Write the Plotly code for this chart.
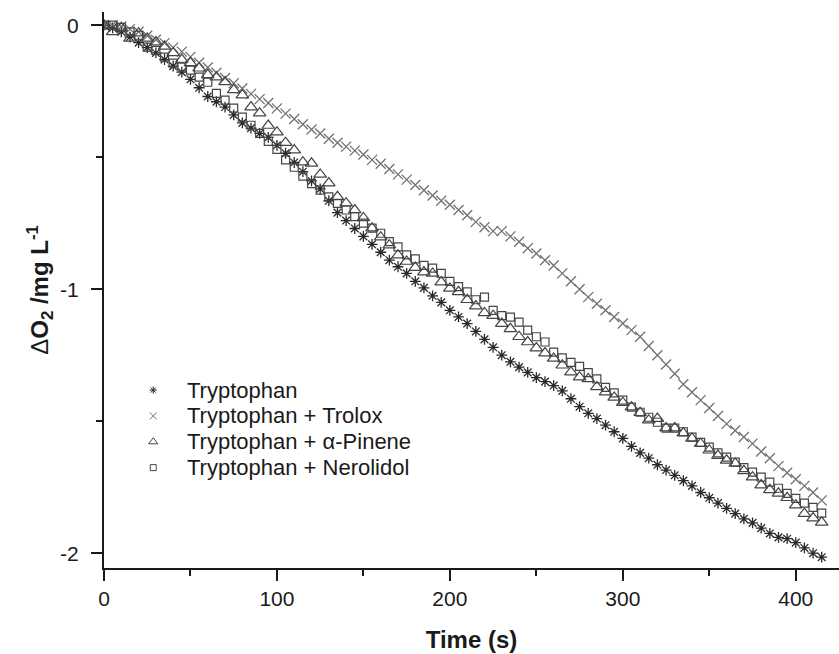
import plotly.graph_objects as go

time_s = [0, 5, 10, 15, 20, 25, 30, 35, 40, 45, 50, 55, 60, 65, 70, 75, 80, 85, 90, 95,
          100, 105, 110, 115, 120, 125, 130, 135, 140, 145, 150, 155, 160, 165, 170, 175, 180, 185, 190, 195,
          200, 205, 210, 215, 220, 225, 230, 235, 240, 245, 250, 255, 260, 265, 270, 275, 280, 285, 290, 295,
          300, 305, 310, 315, 320, 325, 330, 335, 340, 345, 350, 355, 360, 365, 370, 375, 380, 385, 390, 395,
          400, 405, 410, 415]

tryptophan = [0, -0.01, -0.025, -0.045, -0.066, -0.085, -0.105, -0.13, -0.155, -0.178,
              -0.205, -0.237, -0.27, -0.29, -0.31, -0.34, -0.37, -0.39, -0.41, -0.425,
              -0.455, -0.485, -0.52, -0.555, -0.59, -0.62, -0.665, -0.71, -0.74, -0.77,
              -0.80, -0.83, -0.86, -0.89, -0.915, -0.94, -0.97, -0.995, -1.025, -1.05,
              -1.08, -1.105, -1.13, -1.16, -1.19, -1.22, -1.25, -1.275, -1.295, -1.315,
              -1.335, -1.35, -1.365, -1.385, -1.415, -1.445, -1.47, -1.49, -1.515, -1.54,
              -1.565, -1.595, -1.62, -1.64, -1.665, -1.685, -1.705, -1.725, -1.745, -1.77,
              -1.79, -1.81, -1.83, -1.85, -1.87, -1.885, -1.905, -1.925, -1.94, -1.945,
              -1.96, -1.98, -2.0, -2.015]

trolox = [0, 0.0, -0.005, -0.015, -0.025, -0.04, -0.055, -0.068, -0.085, -0.10,
          -0.12, -0.142, -0.16, -0.18, -0.20, -0.22, -0.24, -0.26, -0.28, -0.295,
          -0.315, -0.335, -0.355, -0.375, -0.395, -0.41, -0.43, -0.445, -0.46, -0.475,
          -0.49, -0.51, -0.525, -0.545, -0.565, -0.585, -0.605, -0.625, -0.645, -0.665,
          -0.68, -0.70, -0.72, -0.745, -0.765, -0.78, -0.78, -0.80, -0.82, -0.845,
          -0.865, -0.89, -0.91, -0.94, -0.97, -1.0, -1.03, -1.055, -1.08, -1.105,
          -1.13, -1.155, -1.18, -1.215, -1.25, -1.285, -1.32, -1.36, -1.39, -1.42,
          -1.45, -1.48, -1.51, -1.535, -1.56, -1.585, -1.615, -1.64, -1.67, -1.695,
          -1.72, -1.745, -1.77, -1.80]

pinene = [0, -0.025, -0.01, -0.05, -0.03, -0.05, -0.064, -0.08, -0.105, -0.13,
          -0.143, -0.163, -0.188, -0.197, -0.215, -0.245, -0.265, -0.31, -0.333, -0.38,
          -0.405, -0.445, -0.473, -0.519, -0.523, -0.565, -0.598, -0.65, -0.674, -0.70,
          -0.73, -0.769, -0.803, -0.833, -0.871, -0.895, -0.918, -0.935, -0.94, -0.973,
          -0.997, -1.01, -1.04, -1.064, -1.09, -1.10, -1.13, -1.15, -1.18, -1.20,
          -1.223, -1.242, -1.262, -1.288, -1.314, -1.333, -1.34, -1.37, -1.39, -1.41,
          -1.43, -1.447, -1.468, -1.496, -1.49, -1.526, -1.526, -1.545, -1.565, -1.585,
          -1.61, -1.63, -1.648, -1.66, -1.688, -1.712, -1.742, -1.76, -1.773, -1.79,
          -1.818, -1.85, -1.867, -1.883]

nerolidol = [0, 0.0, -0.008, -0.025, -0.038, -0.083, -0.095, -0.121, -0.144, -0.159,
             -0.17, -0.197, -0.216, -0.258, -0.284, -0.314, -0.348, -0.379, -0.41, -0.44,
             -0.47, -0.51, -0.538, -0.572, -0.60, -0.625, -0.65, -0.675, -0.70, -0.725,
             -0.75, -0.769, -0.788, -0.82, -0.84, -0.87, -0.885, -0.91, -0.92, -0.94,
             -0.97, -0.99, -1.01, -1.04, -1.03, -1.08, -1.10, -1.106, -1.125, -1.155,
             -1.18, -1.20, -1.238, -1.26, -1.277, -1.292, -1.316, -1.34, -1.372, -1.393,
             -1.42, -1.447, -1.466, -1.485, -1.504, -1.526, -1.526, -1.54, -1.56, -1.58,
             -1.598, -1.62, -1.636, -1.655, -1.676, -1.693, -1.712, -1.731, -1.754, -1.773,
             -1.792, -1.81, -1.826, -1.848]

series_names = ["Tryptophan", "Tryptophan + Trolox", "Tryptophan + α-Pinene", "Tryptophan + Nerolidol"]
x_ticks = [0, 100, 200, 300, 400]
y_ticks = [0, -1, -2]

FONT = "Liberation Sans, Arial, sans-serif"
INK = "#1a1a1a"

styles = [
    (tryptophan, "asterisk-open", 9, "#2a2a2a", 1.3),
    (trolox, "x-thin-open", 10, "#707070", 1.3),
    (pinene, "triangle-up-open", 11, "#454545", 1.2),
    (nerolidol, "square-open", 8, "#454545", 1.2),
]

fig = go.Figure()
for name, (vals, sym, size, col, lw) in zip(series_names, styles):
    fig.add_trace(go.Scatter(
        x=time_s, y=vals, mode="markers", name=name, showlegend=False,
        marker=dict(symbol=sym, size=size, color=col, line=dict(color=col, width=lw)),
    ))

# Legend (key symbols on a hidden 0..1 overlay axis, labels as annotations)
legend_key_x = 0.067
legend_text_x = 0.110
legend_top = 0.320
legend_step = 0.0465
for i, (name, (vals, sym, size, col, lw)) in enumerate(zip(series_names, styles)):
    ky = legend_top - i * legend_step
    fig.add_trace(go.Scatter(
        x=[legend_key_x], y=[ky], mode="markers", showlegend=False, hoverinfo="skip",
        xaxis="x2", yaxis="y2",
        marker=dict(symbol=sym, size=max(size - 3, 6), color=col, line=dict(color=col, width=1)),
    ))
    fig.add_annotation(
        x=legend_text_x, y=ky, xref="paper", yref="paper", text=name,
        showarrow=False, xanchor="left", yanchor="middle",
        font=dict(family=FONT, size=22, color=INK),
    )

axis_common = dict(
    showline=True, linecolor=INK, linewidth=2,
    ticks="outside", ticklen=11, tickwidth=2, tickcolor=INK,
    showgrid=False, zeroline=False, mirror=False, automargin=False,
    tickfont=dict(family=FONT, size=21, color=INK),
)

fig.update_layout(
    width=839, height=654,
    paper_bgcolor="white", plot_bgcolor="white",
    margin=dict(l=104, r=0, t=12, b=86),
    font=dict(family=FONT, color=INK),
    xaxis=dict(
        range=[0, 425], tickvals=x_ticks, ticktext=[str(v) for v in x_ticks],
        minor=dict(ticks="outside", ticklen=6, tickwidth=2, tickcolor=INK, dtick=50, tick0=0),
        title=dict(text="<b>Time (s)</b>", font=dict(size=24), standoff=22),
        **axis_common,
    ),
    yaxis=dict(
        range=[-2.056, 0.05], tickvals=y_ticks, ticktext=[str(v) for v in y_ticks],
        minor=dict(ticks="outside", ticklen=6, tickwidth=2, tickcolor=INK, dtick=0.5, tick0=0),
        ticklabelstandoff=8,
        title=dict(text="Δ<b>O<sub>2</sub> /mg L<sup>-1</sup></b>", font=dict(size=24), standoff=5),
        **axis_common,
    ),
    xaxis2=dict(overlaying="x", range=[0, 1], visible=False, fixedrange=True),
    yaxis2=dict(overlaying="y", range=[0, 1], visible=False, fixedrange=True),
    showlegend=False,
)

fig.write_html(
    "out.html",
    config={"displayModeBar": False, "staticPlot": True},
    post_script="document.body.style.margin='0';document.body.style.padding='0';document.body.style.overflow='hidden';",
)
